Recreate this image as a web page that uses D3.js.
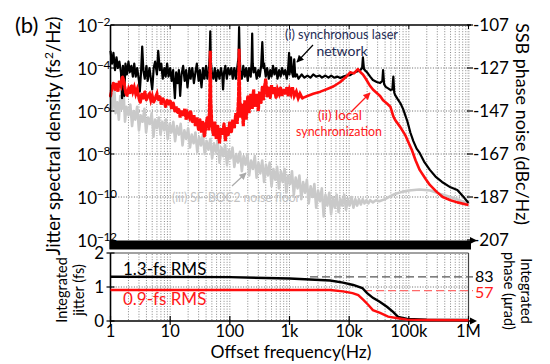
<!DOCTYPE html>
<html><head><meta charset="utf-8">
<script src="https://cdn.jsdelivr.net/npm/d3@7"></script>
<style>
body{margin:0;background:#fff;}
svg{font-family:"Lato","Open Sans",sans-serif;}
</style></head><body>
<svg id="c" width="550" height="364"></svg>
<script>
// ---- data ----
const freqTicks = [1,10,100,1e3,1e4,1e5,1e6];
const freqLabels = ["1","10","100","1k","10k","100k","1M"];
const psdExps = [-2,-4,-6,-8,-10,-12];
const ssbTicks = [-107,-127,-147,-167,-187,-207];
const jitterTicks = [0,1,2];

// (i) synchronous laser network, SSB phase noise (dBc/Hz)
const blackSSB = [[1,-119],[1.06,-125],[1.12,-120],[1.19,-128],[1.26,-122],[1.33,-127],[1.41,-124],[1.5,-129],[1.56,-141],[1.62,-126],[1.7,-140],[1.78,-125],[1.88,-130],[2,-124],[2.1,-129],[2.24,-126],[2.37,-131],[2.5,-125],[2.65,-131],[2.8,-127],[3,-133],[3.1,-138],[3.25,-129],[3.4,-117],[3.55,-128],[3.75,-132],[4,-126],[4.2,-133],[4.5,-127],[4.75,-132],[5,-137],[5.3,-127],[5.6,-124],[6,-130],[6.3,-119],[6.7,-128],[7.1,-125],[7.5,-132],[8,-127],[8.4,-131],[8.9,-125],[9.4,-131],[10,-127],[10.6,-133],[11.2,-128],[12,-141],[12.6,-129],[13.3,-134],[14,-128],[14.7,-140],[15.5,-130],[16.5,-126],[17.5,-133],[18.5,-128],[19.5,-136],[21,-127],[22,-132],[23.5,-127],[25,-134],[26.5,-129],[28,-125],[30,-133],[31.5,-128],[33.5,-136],[35.5,-127],[37.5,-132],[40,-126],[42,-132],[44.5,-128],[46,-121],[47,-110],[48,-124],[50,-129],[53,-132],[56,-127],[59,-133],[63,-128],[67,-132],[71,-127],[75,-131],[77,-137],[80,-129],[84,-126],[89,-132],[94,-127],[100,-130],[106,-127],[112,-132],[119,-127],[126,-132],[133,-127],[140,-122],[143,-108],[146,-121],[150,-128],[159,-132],[168,-126],[178,-131],[188,-127],[200,-133],[210,-127],[224,-131],[232,-124],[237,-111],[242,-125],[250,-129],[265,-127],[282,-132],[300,-128],[316,-131],[335,-126],[350,-115],[365,-127],[375,-125],[400,-131],[422,-127],[450,-132],[475,-128],[500,-131],[530,-126],[560,-130],[595,-127],[630,-132],[670,-128],[710,-131],[750,-127],[800,-130],[845,-128],[900,-132],[950,-127],[985,-120],[1000,-130],[1030,-127],[1060,-122],[1100,-129],[1150,-131],[1200,-123],[1250,-131],[1330,-130],[1410,-132],[1500,-131],[1600,-130],[1780,-131.5],[2000,-130.5],[2240,-131.5],[2500,-130],[2800,-131],[3200,-130.5],[3500,-131.5],[4000,-130.5],[4500,-131.5],[5000,-130.5],[5600,-131.5],[6300,-131],[7100,-131.7],[8000,-131],[9000,-130.5],[10400,-130.3],[11500,-129.5],[12800,-128.9],[14000,-128.5],[15300,-128],[16500,-127],[17000,-122],[17700,-127.5],[19000,-128.5],[20000,-129],[22500,-131],[25000,-132.6],[29000,-133.5],[33000,-134],[36000,-133],[37000,-128],[38500,-134.5],[41000,-135.8],[45000,-136.5],[49000,-137.2],[53000,-137],[55000,-131],[57000,-138.5],[59000,-139.6],[65000,-141.5],[72000,-143.3],[80000,-146],[87000,-148.9],[95000,-152],[106000,-157],[119000,-161],[135000,-164.5],[152000,-166.5],[180000,-170.5],[225000,-174.4],[280000,-177.5],[360000,-180],[500000,-182.5],[650000,-183.7],[800000,-186.5],[1000000,-189.8]];

// (ii) local synchronization
const redSSB = [[1,-140],[1.06,-136],[1.12,-134],[1.19,-137],[1.26,-134],[1.33,-138],[1.41,-133],[1.5,-135],[1.58,-131],[1.68,-133],[1.78,-138],[1.88,-140],[2,-137],[2.1,-139],[2.24,-135],[2.37,-138],[2.5,-136],[2.65,-139],[2.8,-137],[3,-141],[3.15,-143],[3.35,-139],[3.55,-141],[3.75,-138],[4,-142],[4.2,-140],[4.5,-139],[4.75,-142],[5,-140],[5.3,-143],[5.6,-141],[6,-139],[6.3,-142],[6.7,-140],[7.1,-144],[7.5,-141],[8,-143],[8.4,-145],[8.9,-142],[9.4,-144],[10,-142],[10.6,-146],[11.2,-143],[12,-147],[12.6,-145],[13.3,-148],[14,-146],[14.7,-150],[15.5,-147],[16.5,-149],[17.5,-146],[18.5,-151],[19.5,-148],[21,-150],[22,-147],[23.5,-152],[25,-149],[26.5,-154],[28,-150],[30,-156],[31.5,-151],[33.5,-157],[35.5,-152],[37.5,-159],[40,-153],[42,-150],[44.5,-156],[46,-140],[47,-119],[48,-142],[50,-154],[53,-158],[56,-152],[59,-160],[63,-154],[67,-162],[71,-155],[75,-158],[80,-153],[84,-161],[89,-155],[94,-158],[100,-152],[106,-157],[112,-151],[119,-155],[126,-148],[133,-153],[140,-140],[143,-118],[146,-138],[150,-150],[159,-144],[168,-154],[178,-142],[188,-151],[200,-140],[210,-148],[224,-139],[237,-146],[250,-137],[265,-145],[282,-139],[300,-147],[316,-138],[335,-143],[350,-136],[365,-142],[375,-137],[400,-132],[422,-140],[450,-136],[475,-141],[500,-135],[530,-139],[560,-136],[595,-141],[630,-137],[670,-139],[710,-136],[750,-140],[800,-137],[845,-139],[900,-136],[950,-140],[1000,-137],[1060,-139],[1120,-136],[1200,-140],[1300,-138],[1400,-141],[1500,-139],[1640,-141],[2000,-140],[2500,-139],[3300,-138],[4500,-136.5],[5500,-135.5],[7100,-133.5],[9000,-131],[10400,-129],[12000,-129.5],[13000,-128.5],[14000,-127.5],[15500,-129],[17000,-130],[19000,-132],[22000,-135],[25000,-137],[29000,-138.6],[33000,-140],[37000,-142],[43000,-143.5],[49000,-145],[55000,-149.5],[59000,-151.2],[72000,-154.5],[87000,-158.2],[100000,-162],[112000,-165],[130000,-170],[152000,-174.4],[190000,-178.5],[225000,-181.4],[290000,-184.5],[370000,-187],[500000,-188.5],[650000,-189.5],[1000000,-190.7]];

// (iii) SF-BOC2 noise floor
const graySSB = [[1,-139],[1.08,-146],[1.15,-135],[1.22,-148],[1.3,-143],[1.38,-151],[1.46,-140],[1.55,-146],[1.65,-137],[1.75,-152],[1.85,-145],[2,-149],[2.15,-144],[2.3,-154],[2.45,-147],[2.6,-151],[2.8,-145],[3,-156],[3.2,-149],[3.45,-152],[3.7,-146],[3.95,-157],[4.25,-150],[4.55,-153],[4.9,-148],[5.25,-159],[5.6,-151],[6,-155],[6.45,-150],[6.9,-158],[7.4,-152],[7.95,-156],[8.5,-151],[9.1,-160],[9.8,-153],[10.5,-157],[11.3,-152],[12.1,-161],[13,-154],[14,-158],[15,-153],[16.1,-163],[17.3,-156],[18.6,-160],[20,-155],[21.5,-164],[23,-158],[24.7,-162],[26.5,-157],[28.5,-166],[30.6,-159],[32.9,-163],[35.3,-158],[38,-167],[40.8,-161],[43.8,-165],[47,-160],[50.5,-169],[54.3,-162],[58.3,-166],[62.6,-161],[67.3,-171],[72.3,-164],[77.7,-168],[83.5,-163],[89.7,-172],[96.4,-165],[103,-169],[111,-164],[119,-173],[128,-167],[137,-171],[148,-166],[159,-175],[170,-168],[183,-172],[197,-167],[211,-177],[227,-170],[244,-174],[262,-168],[281,-178],[302,-171],[324,-176],[349,-170],[375,-180],[403,-172],[433,-177],[465,-171],[500,-182],[537,-174],[577,-179],[620,-173],[666,-183],[716,-175],[769,-180],[826,-174],[888,-185],[954,-177],[1025,-181],[1100,-175],[1180,-186],[1270,-178],[1365,-183],[1467,-177],[1577,-188],[1694,-180],[1820,-185],[1956,-179],[2100,-190],[2260,-182],[2430,-187],[2610,-181],[2800,-192],[3010,-184],[3240,-189],[3480,-183],[3740,-196],[4010,-186],[4310,-191],[4640,-185],[4980,-195],[5350,-187],[5750,-192],[6180,-186],[6640,-194],[7140,-188],[7670,-191],[8240,-186],[8860,-193],[9520,-188],[10200,-191],[11000,-187],[11800,-192],[12700,-188],[13600,-191],[14600,-188],[15700,-190.5],[16900,-188],[18100,-190],[19500,-188.5],[21000,-190],[22500,-188.5],[25000,-189.5],[28000,-188.5],[32000,-189],[40000,-188],[50000,-186.5],[60000,-185.5],[80000,-184.5],[100000,-184],[150000,-183.5],[230000,-184],[330000,-185.5],[500000,-187],[700000,-188.5],[1000000,-190]];

// integrated jitter (fs)
const blackJitter = [[1,1.3],[100,1.29],[1000,1.25],[4800,1.19],[7900,1.13],[11700,1.06],[16600,0.97],[20000,0.82],[25000,0.68],[33000,0.56],[43500,0.41],[55000,0.26],[66000,0.12],[94000,0.06],[200000,0.04],[1000000,0.03]];
const redJitter = [[1,0.91],[1000,0.91],[4800,0.91],[7900,0.87],[11400,0.82],[14200,0.76],[17300,0.62],[21000,0.47],[25000,0.32],[33000,0.24],[45000,0.13],[65000,0.08],[94000,0.04],[200000,0.03],[1000000,0.02]];
const rmsJitter = [1.3, 0.9];
const rmsPhase = [83, 57];
const rmsColors = ["#000","#ff1a1a"];

// ---- layout ----
const svg = d3.select("#c");
const X0 = 110.5, X1 = 468.5;
const x = d3.scaleLog().domain([1,1e6]).range([X0,X1]);
const yL = d3.scaleLog().domain([1e-12,1e-2]).range([240,25]);
const yR = d3.scaleLinear().domain([-207,-107]).range([240,25]);
const yJ = d3.scaleLinear().domain([0,2]).range([321,253]);
const yP = d3.scaleLinear().domain([0,2*83/1.3]).range([321,253]);

// grid
const gridF = [];
for (let d=0; d<6; d++) for (let m=1; m<10; m++) gridF.push(m*Math.pow(10,d));
gridF.push(1e6);
const g = svg.append("g");
g.selectAll("line.vt").data(gridF).enter().append("line")
  .attr("x1",d=>x(d)).attr("x2",d=>x(d)).attr("y1",26).attr("y2",240)
  .attr("stroke",d=>d===1e6?"#aaa":"#888").attr("stroke-width",d=>d===1e6?2:1).attr("stroke-dasharray","1,1.6");
g.selectAll("line.vb").data(gridF).enter().append("line")
  .attr("x1",d=>x(d)).attr("x2",d=>x(d)).attr("y1",254).attr("y2",321)
  .attr("stroke","#888").attr("stroke-width",1).attr("stroke-dasharray","1,1.6");
g.selectAll("line.ht").data([-4,-6,-8,-10]).enter().append("line")
  .attr("x1",X0).attr("x2",X1).attr("y1",d=>yL(Math.pow(10,d))).attr("y2",d=>yL(Math.pow(10,d)))
  .attr("stroke","#666").attr("stroke-dasharray","1,1.6");
g.append("line").attr("x1",X0).attr("x2",X1).attr("y1",yJ(1)).attr("y2",yJ(1))
  .attr("stroke","#666").attr("stroke-dasharray","1,1.6");

// series top
const line = d3.line().x(d=>x(d[0])).y(d=>yR(d[1]));
svg.append("path").attr("d",line(graySSB)).attr("fill","none").attr("stroke","#c9c9c9").attr("stroke-width",2.6).attr("stroke-linejoin","round");
svg.append("path").attr("d",line(blackSSB)).attr("fill","none").attr("stroke","#000").attr("stroke-width",2.2).attr("stroke-linejoin","round");
svg.append("path").attr("d",line(redSSB.filter(d=>d[0]<=1640))).attr("fill","none").attr("stroke","#ff0d0d").attr("stroke-width",3.2).attr("stroke-dasharray","3,2").attr("stroke-linecap","round");
svg.append("path").attr("d",line(redSSB.filter(d=>d[0]>=1640))).attr("fill","none").attr("stroke","#ff0d0d").attr("stroke-width",2.6).attr("stroke-linejoin","round");

// axes top
svg.append("line").attr("x1",X0).attr("x2",471).attr("y1",25).attr("y2",25).attr("stroke","#000").attr("stroke-width",1.6);
svg.append("line").attr("x1",X0).attr("x2",X0).attr("y1",25).attr("y2",249).attr("stroke","#000").attr("stroke-width",1.6);
svg.append("rect").attr("x",X0-1).attr("y",240.5).attr("width",471-X0+1).attr("height",9).attr("fill","#000");
svg.append("path").attr("d","M470,237 L477,240.5 L470,244 Z").attr("fill","#000");
svg.selectAll("line.tt").data(freqTicks).enter().append("line")
  .attr("x1",d=>x(d)).attr("x2",d=>x(d)).attr("y1",25).attr("y2",29).attr("stroke","#000");
svg.selectAll("line.rt").data(ssbTicks).enter().append("line")
  .attr("x1",467).attr("x2",473).attr("y1",d=>yR(d)).attr("y2",d=>yR(d)).attr("stroke","#000").attr("stroke-width",1.2);
svg.selectAll("line.lt").data(psdExps).enter().append("line")
  .attr("x1",X0).attr("x2",X0+4).attr("y1",d=>yL(Math.pow(10,d))).attr("y2",d=>yL(Math.pow(10,d))).attr("stroke","#000");

// left labels top
const lt = svg.selectAll("g.lt").data(psdExps).enter().append("g");
lt.append("text").attr("x",97).attr("y",d=>yL(Math.pow(10,d))+7).attr("text-anchor","end")
  .attr("font-size",17).text("10");
lt.append("text").attr("x",97).attr("y",d=>yL(Math.pow(10,d))+1).attr("font-size",12).text(d=>"\u2212"+(-d)).attr("letter-spacing",-0.5);
svg.selectAll("text.rl").data(ssbTicks).enter().append("text")
  .attr("x",473).attr("y",d=>yR(d)+6).attr("font-size",17).text(d=>"-"+(-d));

// bottom panel
svg.append("line").attr("x1",X0).attr("x2",X1).attr("y1",253).attr("y2",253).attr("stroke","#444").attr("stroke-width",1);
svg.append("line").attr("x1",X1).attr("x2",X1).attr("y1",253).attr("y2",321).attr("stroke","#444").attr("stroke-width",1.2);
svg.append("line").attr("x1",X0).attr("x2",X0).attr("y1",253).attr("y2",322).attr("stroke","#000").attr("stroke-width",1.6);
svg.append("line").attr("x1",X0).attr("x2",471).attr("y1",321).attr("y2",321).attr("stroke","#000").attr("stroke-width",1.6);
svg.append("path").attr("d","M470,317.5 L477,321 L470,324.5 Z").attr("fill","#000");
svg.selectAll("line.bt").data(freqTicks).enter().append("line")
  .attr("x1",d=>x(d)).attr("x2",d=>x(d)).attr("y1",316).attr("y2",325).attr("stroke","#000").attr("stroke-width",1.2);
svg.selectAll("line.jt").data(jitterTicks).enter().append("line")
  .attr("x1",X0-4).attr("x2",X0+4).attr("y1",d=>yJ(d)).attr("y2",d=>yJ(d)).attr("stroke","#000").attr("stroke-width",1.2);
svg.selectAll("text.jl").data(jitterTicks).enter().append("text")
  .attr("x",104).attr("y",d=>yJ(d)+6).attr("text-anchor","end").attr("font-size",17).text(d=>d);
svg.selectAll("text.xl").data(freqTicks).enter().append("text")
  .attr("x",(d,i)=>x(d)).attr("y",337).attr("text-anchor","middle").attr("font-size",16.5).text((d,i)=>freqLabels[i]);

// dashed rms phase markers
const dashStart = [310, 364];
svg.selectAll("line.pm").data(rmsPhase).enter().append("line")
  .attr("x1",(d,i)=>dashStart[i]).attr("x2",473).attr("y1",d=>yP(d)).attr("y2",d=>yP(d))
  .attr("stroke",(d,i)=>i===0?"#555":"#ff6a6a").attr("stroke-width",1.3).attr("stroke-dasharray","8,4");
svg.selectAll("text.pm").data(rmsPhase).enter().append("text")
  .attr("x",475).attr("y",(d,i)=>yP(d)+(i===0?5:7)).attr("font-size",16).attr("fill",(d,i)=>rmsColors[i]).text(d=>d);

const jline = d3.line().x(d=>x(d[0])).y(d=>yJ(d[1]));
svg.append("path").attr("d",jline(blackJitter)).attr("fill","none").attr("stroke","#000").attr("stroke-width",2.4);
svg.append("path").attr("d",jline(redJitter)).attr("fill","none").attr("stroke","#ff0d0d").attr("stroke-width",2.4);
svg.selectAll("text.rms").data(rmsJitter).enter().append("text")
  .attr("x",123).attr("y",(d,i)=>i===0?yJ(d)-2:yJ(d)+15).attr("font-size",17)
  .attr("fill",(d,i)=>rmsColors[i]).text(d=>d.toFixed(1)+"-fs RMS");

// axis titles
svg.append("text").attr("x",15).attr("y",33).attr("font-size",22).text("(b)");
svg.append("text").attr("transform","translate(60,136) rotate(-90)").attr("text-anchor","middle").attr("font-size",18.5)
  .html('Jitter spectral density (fs<tspan dy="-7" font-size="12">2</tspan><tspan dy="7">/Hz)</tspan>');
svg.append("text").attr("transform","translate(516,124) rotate(90)").attr("text-anchor","middle").attr("font-size",18)
  .text("SSB phase noise (dBc/Hz)");
svg.append("text").attr("transform","translate(67,290) rotate(-90)").attr("text-anchor","middle").attr("font-size",14.5).text("Integrated");
svg.append("text").attr("transform","translate(84,290) rotate(-90)").attr("text-anchor","middle").attr("font-size",14.5).text("jitter (fs)");
svg.append("text").attr("transform","translate(521,291) rotate(90)").attr("text-anchor","middle").attr("font-size",14.5).text("Integrated");
svg.append("text").attr("transform","translate(504,291) rotate(90)").attr("text-anchor","middle").attr("font-size",14.5).text("phase (\u03bcrad)");
svg.append("text").attr("x",291).attr("y",358).attr("text-anchor","middle").attr("font-size",17.5).text("Offset frequency(Hz)");

// annotations
const defs = svg.append("defs");
[["k","#000"],["r","#ff1a1a"],["g","#aaa"]].forEach(([id,c])=>{
  defs.append("marker").attr("id","a"+id).attr("viewBox","0 0 10 10").attr("refX",9).attr("refY",5)
    .attr("markerWidth",6).attr("markerHeight",6).attr("orient","auto")
    .append("path").attr("d","M0,0 L10,5 L0,10 Z").attr("fill",c);
});
svg.append("text").attr("x",285).attr("y",39).attr("font-size",14).attr("fill","#1f2c55")
  .attr("textLength",113).attr("lengthAdjust","spacingAndGlyphs").text("(i) synchronous laser");
svg.append("text").attr("x",342).attr("y",56).attr("text-anchor","middle").attr("font-size",14).attr("fill","#1f2c55").text("network");
svg.append("line").attr("x1",313).attr("y1",45).attr("x2",297).attr("y2",62).attr("stroke","#000").attr("stroke-width",1.2).attr("marker-end","url(#ak)");
svg.append("text").attr("x",318).attr("y",120).attr("font-size",14).attr("fill","#ff1a1a")
  .attr("textLength",44).attr("lengthAdjust","spacingAndGlyphs").text("(ii) local");
svg.append("text").attr("x",296).attr("y",136).attr("font-size",14).attr("fill","#ff1a1a")
  .attr("textLength",86).attr("lengthAdjust","spacingAndGlyphs").text("synchronization");
svg.append("line").attr("x1",351).attr("y1",112).attr("x2",370).attr("y2",93).attr("stroke","#ff1a1a").attr("stroke-width",1.2).attr("marker-end","url(#ar)");
svg.append("text").attr("x",172).attr("y",202).attr("font-size",14).attr("fill","#c2c2c2")
  .attr("textLength",128).attr("lengthAdjust","spacingAndGlyphs").text("(iii) SF-BOC2 noise floor");
svg.append("line").attr("x1",232).attr("y1",186).attr("x2",246).attr("y2",173).attr("stroke","#aaa").attr("stroke-width",1.2).attr("marker-end","url(#ag)");
</script>
</body></html>
